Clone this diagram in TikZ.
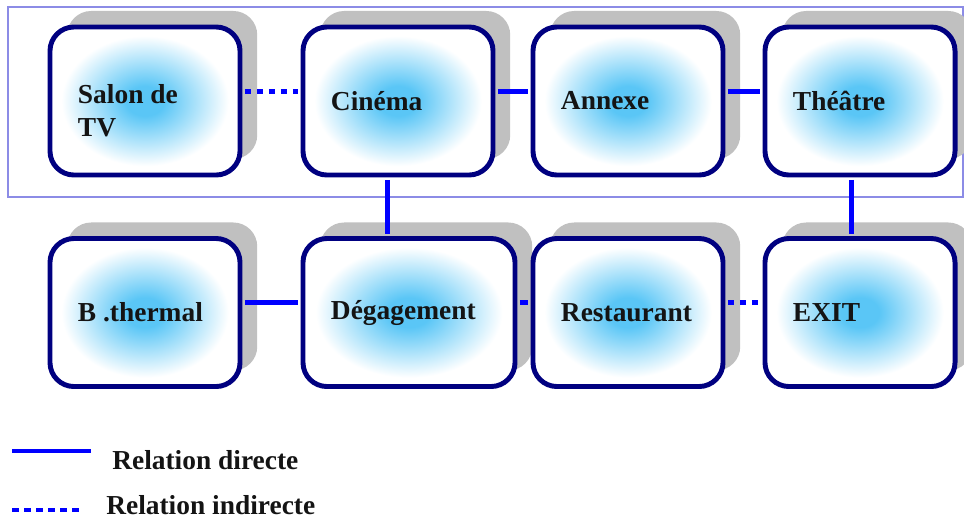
\documentclass[tikz,border=0pt]{standalone}
\usepackage{fontspec}
\setmainfont{Liberation Serif}
\usetikzlibrary{shadows}

\definecolor{roomline}{RGB}{0,0,128}
\definecolor{roomglow}{RGB}{90,198,246}
\definecolor{linkblue}{RGB}{0,0,255}
\definecolor{framelav}{RGB}{140,140,230}
\definecolor{shadowgray}{RGB}{192,192,192}
\definecolor{textdark}{RGB}{20,20,20}

\pgfdeclareradialshading{roomshade}{\pgfpoint{0bp}{0bp}}{color(0bp)=(roomglow); color(5bp)=(roomglow); color(22bp)=(white); color(50bp)=(white)}

\tikzset{
  room/.style={draw=roomline, line width=3.5pt, rounded corners=0.6cm,
    shade, shading=roomshade,
    minimum height=3.7cm, text width=3.35cm, inner xsep=0.7cm, align=flush left,
    font=\fontsize{19.5}{23.4}\selectfont\bfseries, text=textdark,
    drop shadow={shadow xshift=0.43cm, shadow yshift=0.4cm, fill=shadowgray, opacity=1}},
  link/.style={draw=linkblue, line width=3.5pt, shorten <=1.75pt, shorten >=1.75pt},
  farlink/.style={link, dash pattern=on 4.5pt off 4pt},
  legendtext/.style={anchor=west, inner sep=0pt, text=textdark,
    font=\fontsize{19.5}{23.4}\selectfont\bfseries}
}

\begin{document}
\begin{tikzpicture}[x=0.025cm, y=-0.025cm]

  \useasboundingbox (0,0) rectangle (964,521);

  % Frame round the upper row
  \draw[framelav, line width=0.8pt] (8,7) rectangle (963,197);

  % Upper row
  \node[room, text height=27pt] (salon) at (145,101) {Salon de\\TV};
  \node[room] (cinema) at (398,101) {Cinéma};
  \node[room] (annexe) at (628,101) {Annexe};
  \node[room] (theatre) at (860,101) {Théâtre};

  % Lower row
  \node[room] (bthermal) at (145,312.5) {B .thermal};
  \node[room, text width=3.9cm] (degag) at (409,312.5) {Dégagement};
  \node[room] (resto) at (628,312.5) {Restaurant};
  \node[room] (exit) at (860,312.5) {EXIT};

  % Links in the upper row
  \draw[farlink] ([yshift=0.23cm]salon.east) -- ([yshift=0.23cm]cinema.west);
  \draw[link] ([yshift=0.23cm]cinema.east) -- ([yshift=0.23cm]annexe.west);
  \draw[link] ([yshift=0.23cm]annexe.east) -- ([yshift=0.23cm]theatre.west);

  % Links between the rows
  \draw[link] ([xshift=-0.27cm]cinema.south) -- ([xshift=-0.27cm]cinema.south |- degag.north);
  \draw[link] ([xshift=-0.22cm]theatre.south) -- ([xshift=-0.22cm]theatre.south |- exit.north);

  % Links in the lower row
  \draw[link] ([yshift=0.26cm]bthermal.east) -- ([yshift=0.26cm]bthermal.east -| degag.west);
  \draw[link] ([yshift=0.26cm]degag.east) -- ([yshift=0.26cm]degag.east -| resto.west);
  \draw[farlink] ([yshift=0.26cm]resto.east) -- ([yshift=0.26cm]resto.east -| exit.west);

  % Legend
  \coordinate (dirstart) at (10,451);
  \coordinate (dirend) at (93,451);
  \draw[link] (dirstart) -- (dirend);
  \node[legendtext] (dirtext) at (112,460) {Relation directe};

  \coordinate (indstart) at (10,510);
  \coordinate (indend) at (82,510);
  \draw[farlink] (indstart) -- (indend);
  \node[legendtext] (indtext) at (106,505) {Relation indirecte};

\end{tikzpicture}
\end{document}
